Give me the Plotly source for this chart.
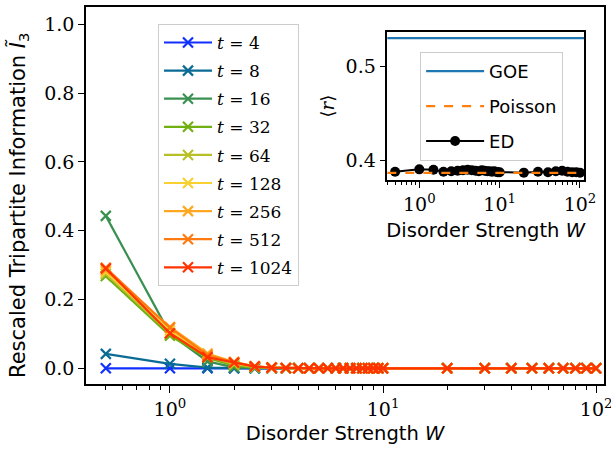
import plotly.graph_objects as go

# ---------------- data ----------------
W = [0.5, 1.0, 1.5, 2.0, 2.5, 3.0, 3.5, 4.0, 4.5, 5.0, 5.5, 6.0, 6.5, 7.0, 7.5,
     8.0, 8.5, 9.0, 9.5, 10.0, 20, 30, 40, 50, 60, 70, 80, 90, 100]

t_labels = ["4", "8", "16", "32", "64", "128", "256", "512", "1024"]
t_colors = ["#1030ff", "#0a6b95", "#3a9050", "#70b010", "#b8c028",
            "#f8d030", "#ffa820", "#ff7a10", "#ff3300"]

I3_t4 = [0.0, 0.0, 0.0, 0.0, 0.0, 0.0, 0.0, 0.0, 0.0, 0.0, 0.0, 0.0, 0.0, 0.0, 0.0,
         0.0, 0.0, 0.0, 0.0, 0.0, 0.0, 0.0, 0.0, 0.0, 0.0, 0.0, 0.0, 0.0, 0.0]
I3_t8 = [0.042, 0.013, 0.002, 0.0, 0.0, 0.0, 0.0, 0.0, 0.0, 0.0, 0.0, 0.0, 0.0, 0.0, 0.0,
         0.0, 0.0, 0.0, 0.0, 0.0, 0.0, 0.0, 0.0, 0.0, 0.0, 0.0, 0.0, 0.0, 0.0]
I3_t16 = [0.443, 0.100, 0.020, 0.003, 0.001, 0.0, 0.0, 0.0, 0.0, 0.0, 0.0, 0.0, 0.0, 0.0, 0.0,
          0.0, 0.0, 0.0, 0.0, 0.0, 0.0, 0.0, 0.0, 0.0, 0.0, 0.0, 0.0, 0.0, 0.0]
I3_t32 = [0.268, 0.095, 0.030, 0.008, 0.002, 0.001, 0.0, 0.0, 0.0, 0.0, 0.0, 0.0, 0.0, 0.0, 0.0,
          0.0, 0.0, 0.0, 0.0, 0.0, 0.0, 0.0, 0.0, 0.0, 0.0, 0.0, 0.0, 0.0, 0.0]
I3_t64 = [0.275, 0.102, 0.034, 0.012, 0.004, 0.001, 0.0, 0.0, 0.0, 0.0, 0.0, 0.0, 0.0, 0.0, 0.0,
          0.0, 0.0, 0.0, 0.0, 0.0, 0.0, 0.0, 0.0, 0.0, 0.0, 0.0, 0.0, 0.0, 0.0]
I3_t128 = [0.280, 0.110, 0.038, 0.015, 0.005, 0.002, 0.001, 0.0, 0.0, 0.0, 0.0, 0.0, 0.0, 0.0, 0.0,
           0.0, 0.0, 0.0, 0.0, 0.0, 0.0, 0.0, 0.0, 0.0, 0.0, 0.0, 0.0, 0.0, 0.0]
I3_t256 = [0.285, 0.120, 0.043, 0.018, 0.006, 0.002, 0.001, 0.0, 0.0, 0.0, 0.0, 0.0, 0.0, 0.0, 0.0,
           0.0, 0.0, 0.0, 0.0, 0.0, 0.0, 0.0, 0.0, 0.0, 0.0, 0.0, 0.0, 0.0, 0.0]
I3_t512 = [0.292, 0.118, 0.038, 0.018, 0.006, 0.002, 0.001, 0.0, 0.0, 0.0, 0.0, 0.0, 0.0, 0.0, 0.0,
           0.0, 0.0, 0.0, 0.0, 0.0, 0.0, 0.0, 0.0, 0.0, 0.0, 0.0, 0.0, 0.0, 0.0]
I3_t1024 = [0.290, 0.102, 0.032, 0.016, 0.005, 0.002, 0.001, 0.0, 0.0, 0.0, 0.0, 0.0, 0.0, 0.0, 0.0,
            0.0, 0.0, 0.0, 0.0, 0.0, 0.0, 0.0, 0.0, 0.0, 0.0, 0.0, 0.0, 0.0, 0.0]
I3_series = [I3_t4, I3_t8, I3_t16, I3_t32, I3_t64, I3_t128, I3_t256, I3_t512, I3_t1024]

r_ED = [0.3875, 0.3900, 0.3895, 0.3875, 0.3880, 0.3885, 0.3890, 0.3895, 0.3890, 0.3885,
        0.3880, 0.3890, 0.3885, 0.3880, 0.3880, 0.3875, 0.3880, 0.3875, 0.3870, 0.3870,
        0.3865, 0.3875, 0.3870, 0.3880, 0.3885, 0.3875, 0.3870, 0.3870, 0.3865]
r_GOE = 0.5307
r_Poisson = 0.3863

main_yticks = [0.0, 0.2, 0.4, 0.6, 0.8, 1.0]
main_yticktext = ["0.0", "0.2", "0.4", "0.6", "0.8", "1.0"]
inset_yticks = [0.4, 0.5]
inset_yticktext = ["0.4", "0.5"]
log_ticks = [1, 10, 100]
log_ticktext = ["10<sup>0</sup>", "10<sup>1</sup>", "10<sup>2</sup>"]
log_minor = [0.4, 0.5, 0.6, 0.7, 0.8, 0.9, 2, 3, 4, 5, 6, 7, 8, 9,
             20, 30, 40, 50, 60, 70, 80, 90]

SERIF = "DejaVu Serif, serif"
SANS = "DejaVu Sans, sans-serif"

fig = go.Figure()

for lab, col, ys in zip(t_labels, t_colors, I3_series):
    fig.add_trace(go.Scatter(
        x=W, y=ys, mode="lines+markers",
        name="<i>t</i> = " + lab,
        legendgroup="t" + lab,
        line=dict(color=col, width=2.2),
        marker=dict(symbol="x-thin", size=10, line=dict(color=col, width=2.2)),
        xaxis="x", yaxis="y", legend="legend",
    ))

# inset reference lines (drawn as shapes, legend via dummy traces)
fig.add_shape(type="line", xref="x2 domain", yref="y2", x0=0, x1=1,
              y0=r_GOE, y1=r_GOE, line=dict(color="#1f77b4", width=2.2))
fig.add_shape(type="line", xref="x2 domain", yref="y2", x0=0, x1=1,
              y0=r_Poisson, y1=r_Poisson, line=dict(color="#ff7f0e", width=2.2, dash="dash"))

fig.add_trace(go.Scatter(x=[None], y=[None], mode="lines", name="GOE",
                         line=dict(color="#1f77b4", width=2.2),
                         xaxis="x2", yaxis="y2", legend="legend2", legendgroup="g1"))
fig.add_trace(go.Scatter(x=[None], y=[None], mode="lines", name="Poisson",
                         line=dict(color="#ff7f0e", width=2.2, dash="dash"),
                         xaxis="x2", yaxis="y2", legend="legend2", legendgroup="g2"))
fig.add_trace(go.Scatter(x=W, y=r_ED, mode="lines+markers", name="ED",
                         line=dict(color="black", width=2),
                         marker=dict(symbol="circle", size=10, color="black"),
                         xaxis="x2", yaxis="y2", legend="legend2", legendgroup="g3"))

axis_common = dict(showline=True, mirror=True, linecolor="black", linewidth=1.5,
                   showgrid=False, zeroline=False, ticks="outside", tickcolor="black",
                   tickwidth=1.2, automargin=False, ticklabeloverflow="allow")

fig.update_layout(
    width=611, height=449,
    margin=dict(l=86, r=7, t=7, b=65, autoexpand=False),
    paper_bgcolor="white", plot_bgcolor="white",
    xaxis=dict(type="log", range=[-0.394, 2.037], domain=[0, 1],
               tickvals=log_ticks, ticktext=log_ticktext, ticklen=7,
               tickfont=dict(family=SERIF, size=19, color="black"),
               minor=dict(tickvals=log_minor, ticks="outside", ticklen=4,
                          tickcolor="black", tickwidth=1),
               title=dict(text="Disorder Strength <i>W</i>",
                          font=dict(family=SANS, size=19.5, color="black"), standoff=8),
               **axis_common),
    yaxis=dict(range=[-0.0456, 1.050], domain=[0, 1],
               tickvals=main_yticks, ticktext=main_yticktext, ticklen=6,
               tickfont=dict(family=SERIF, size=19, color="black"),
               **axis_common),
    xaxis2=dict(type="log", range=[-0.398, 2.05], domain=[0.5817, 0.9614], anchor="y2",
                tickvals=log_ticks, ticktext=log_ticktext, ticklen=6,
                tickfont=dict(family=SERIF, size=19, color="black"),
                minor=dict(tickvals=log_minor, ticks="outside", ticklen=3,
                           tickcolor="black", tickwidth=1),
                title=dict(text="Disorder Strength <i>W</i>",
                           font=dict(family=SANS, size=19.5, color="black"), standoff=10),
                **axis_common),
    yaxis2=dict(range=[0.3786, 0.5369], domain=[0.5411, 0.9329], anchor="x2",
                tickvals=inset_yticks, ticktext=inset_yticktext, ticklen=6,
                tickfont=dict(family=SERIF, size=19, color="black"),
                title=dict(text="⟨<i>r</i>⟩",
                           font=dict(family=SERIF, size=18, color="black"),
                           standoff=6),
                **axis_common),
    legend=dict(x=0.139, y=0.955, xanchor="left", yanchor="top",
                bgcolor="rgba(255,255,255,0.8)", bordercolor="#cccccc", borderwidth=1,
                font=dict(family=SERIF, size=17, color="black"),
                itemwidth=48, tracegroupgap=3),
    legend2=dict(x=0.645, y=0.8806, xanchor="left", yanchor="top",
                 bgcolor="rgba(255,255,255,0.8)", bordercolor="#cccccc", borderwidth=1,
                 font=dict(family=SANS, size=18, color="black"),
                 itemwidth=58, tracegroupgap=8.5),
    annotations=[dict(
        text="Rescaled Tripartite Information <i>Ĩ</i><sub>3</sub>",
        xref="paper", yref="paper", x=(18 - 86) / 518, y=(384 - 206) / 377,
        xanchor="center", yanchor="middle", textangle=-90, showarrow=False,
        font=dict(family=SANS, size=21, color="black"),
    )],
    showlegend=True,
)

fig.write_html("out.html", config={"displayModeBar": False},
               post_script="document.body.style.margin='0';")
